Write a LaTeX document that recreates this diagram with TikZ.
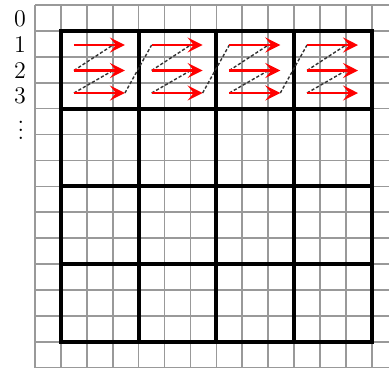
\documentclass[tikz,border=0pt]{standalone}
\usetikzlibrary{arrows.meta}
\begin{document}
\begin{tikzpicture}[x=0.5pt,y=-0.5pt,
  thingrid/.style={draw=gray!80, line width=0.8pt},
  thickgrid/.style={draw=black, line width=2pt},
  scan/.style={draw=red, line width=1.4pt, -{Stealth[length=7.5pt,width=7.5pt,inset=3pt]}},
  jump/.style={draw=black!80, line width=0.7pt, dash pattern=on 1.6pt off 1pt},
  lab/.style={font=\large, inner sep=0pt}]
\useasboundingbox (0,0) rectangle (389,372);
\begin{scope}
\clip (0,0) rectangle (389,372);
\foreach \i in {0,...,13} \draw[thingrid] ({35+25.9*\i},5) -- ({35+25.9*\i},367.6);
\foreach \j in {0,...,14} \draw[thingrid] (35,{5+25.9*\j}) -- (389,{5+25.9*\j});
\end{scope}
\foreach \k in {1,...,3} {
  \draw[thickgrid] ({60.9+77.7*\k},30.9) -- ({60.9+77.7*\k},341.7);
  \draw[thickgrid] (60.9,{30.9+77.7*\k}) -- (371.7,{30.9+77.7*\k});
}
\draw[thickgrid] (60.9,30.9) rectangle (371.7,341.7);
% scan coordinates
\foreach \k in {0,...,3} {
  \foreach \r/\y in {1/45,2/70.5,3/93} {
    \coordinate (s\k\r) at ({60.9+77.7*\k+13},\y);
    \coordinate (e\k\r) at ({60.9+77.7*\k+64},\y);
    \coordinate (b\k\r) at ({60.9+77.7*\k+52},\y);
  }
}
\foreach \k in {0,...,3} {
  \draw[jump] (s\k2) -- (b\k1);
  \draw[jump] (s\k3) -- (b\k2);
}
\foreach \k/\n in {0/1,1/2,2/3} {
  \draw[jump] (e\k3) -- (s\n1);
}
\foreach \k in {0,...,3} {
  \foreach \r in {1,2,3} {
    \draw[scan] (s\k\r) -- (e\k\r);
  }
}
\node[lab] (l0) at (20,19) {0};
\node[lab] (l1) at (20,45) {1};
\node[lab] (l2) at (20,71) {2};
\node[lab] (l3) at (20,96) {3};
\node[lab] (ld) at (21,124) {$\vdots$};
\end{tikzpicture}
\end{document}
